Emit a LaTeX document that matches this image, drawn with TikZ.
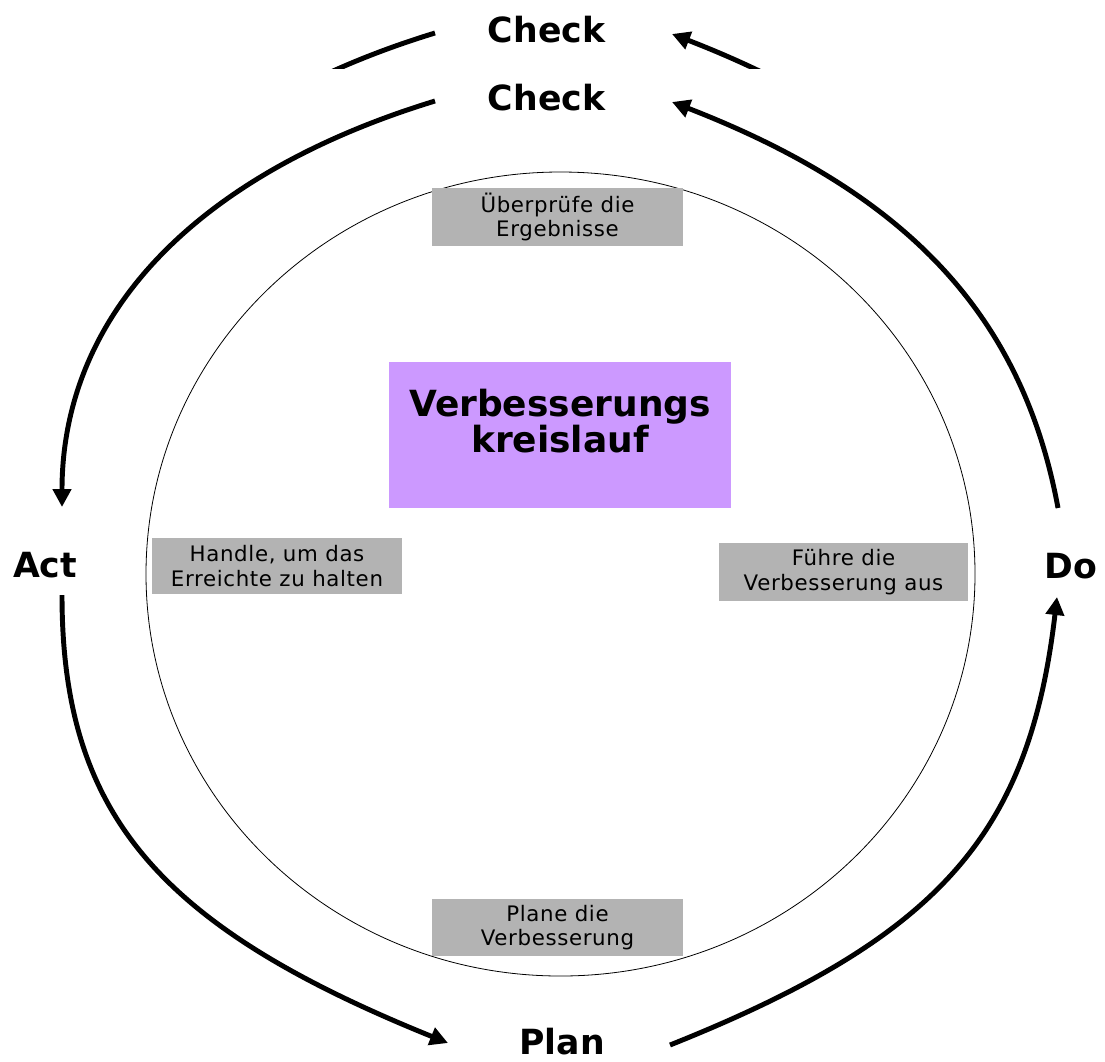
\documentclass[tikz,border=0pt]{standalone}
\usepackage{fontspec}
\setmainfont{DejaVu Sans}
\usetikzlibrary{arrows.meta}
\definecolor{boxgray}{RGB}{179,179,179}
\definecolor{lilac}{RGB}{204,153,255}
\begin{document}
\begin{tikzpicture}[x=0.75pt,y=-0.75pt,
  phase/.style={font=\fontsize{26}{30}\selectfont\bfseries, inner sep=0pt, anchor=base},
  graybox/.style={fill=boxgray, inner sep=0pt, align=center,
    font=\fontsize{16}{18.5}\selectfont\addfontfeatures{LetterSpace=3}},
  titlebox/.style={fill=lilac, inner sep=0pt},
  titletext/.style={font=\fontsize{27}{24.75}\selectfont\bfseries, align=center, inner sep=0pt},
  cyclearrow/.style={line width=3.7pt, -{Triangle[length=13.5pt,width=13.5pt]}},
  ring/.style={line width=0.6pt}
]
\useasboundingbox (0,0) rectangle (1105,1061);

% ring
\draw[ring] (560.5,574) ellipse [x radius=414.5, y radius=402];

% gray boxes
\node[graybox, minimum width=188.25pt, minimum height=43.5pt] (checkbox) at (557.5,217) {Überprüfe die\\Ergebnisse};
\node[graybox, minimum width=187.5pt, minimum height=42pt] (actbox) at (277,566) {Handle, um das\\Erreichte zu halten};
\node[graybox, minimum width=186.75pt, minimum height=43.5pt] (dobox) at (843.5,572) {Führe die\\Verbesserung aus};
\node[graybox, minimum width=188.25pt, minimum height=42.75pt] (planbox) at (557.5,927.5) {Plane die\\Verbesserung};

% title
\node[titlebox, minimum width=256.5pt, minimum height=109.5pt] (titlebg) at (560,435) {};
\node[titletext] (title) at (560,421) {Verbesserungs\\kreislauf};

% phase labels
\node[phase] (check) at (546.5,110) {Check};
\node[phase] (act) at (45,577) {Act};
\node[phase] (do) at (1071,578) {Do};
\node[phase] (plan) at (562,1054) {Plan};

% arrow end points
\coordinate (a1s) at (435,101);  \coordinate (a1e) at (62,507);
\coordinate (a2s) at (1058,508); \coordinate (a2e) at (672,102);
\coordinate (a3s) at (62,595);   \coordinate (a3e) at (448,1043);
\coordinate (a4s) at (670,1045); \coordinate (a4e) at (1057,597);

\draw[cyclearrow] (a1s) .. controls (192.5,175.1) and (62,317.2) .. (a1e);
\draw[cyclearrow] (a2s) .. controls (1022.3,314.8) and (906.5,193) .. (a2e);
\draw[cyclearrow] (a3s) .. controls (62,814) and (158.5,926) .. (a3e);
\draw[cyclearrow] (a4s) .. controls (940.3,937) and (1029.3,833.9) .. (a4e);

% duplicated strip at the top
\begin{scope}
  \clip (0,0) rectangle (1105,68);
  \begin{scope}[yshift=51pt]
    \node[phase] (checkecho) at (546.5,110) {Check};
    \coordinate (e1s) at (435,101);  \coordinate (e1e) at (62,507);
    \coordinate (e2s) at (1058,508); \coordinate (e2e) at (672,102);
    \draw[cyclearrow] (e1s) .. controls (192.5,175.1) and (62,317.2) .. (e1e);
    \draw[cyclearrow] (e2s) .. controls (1022.3,314.8) and (906.5,193) .. (e2e);
  \end{scope}
\end{scope}
\end{tikzpicture}
\end{document}
